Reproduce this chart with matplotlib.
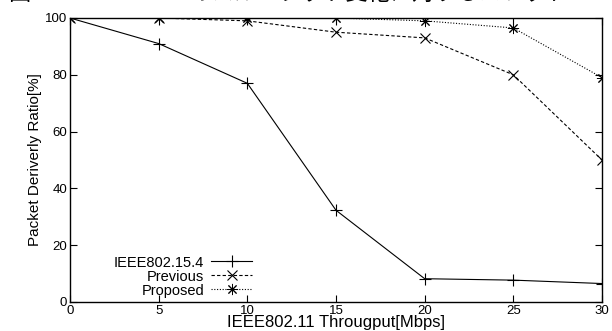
import matplotlib
matplotlib.use("Agg")
import matplotlib.pyplot as plt

plt.rcParams['font.family'] = ['Liberation Sans', 'Noto Sans CJK JP', 'DejaVu Sans']

throughput = [0, 5, 10, 15, 20, 25, 30]
ieee802154 = [100, 91, 77, 32.3, 8.2, 7.7, 6.5]
previous = [100, 100, 99, 95, 93, 80, 50]
proposed = [100, 100, 100, 100, 99, 96.5, 79]

xticks = [0, 5, 10, 15, 20, 25, 30]
yticks = [0, 20, 40, 60, 80, 100]

fig = plt.figure(figsize=(6.12, 3.31), dpi=100)
ax = fig.add_axes([70/612, 1 - 302/331, (602-70)/612, (302-18)/331])

ax.plot(throughput, ieee802154, color='black', lw=0.8, marker='+', ms=8, mew=0.8,
        label='IEEE802.15.4')
ax.plot(throughput, previous, color='black', lw=0.8, ls=(0, (3, 2)), marker='x', ms=7, mew=0.8,
        label='Previous')
ax.plot(throughput, proposed, color='black', lw=0.8, ls=(0, (1, 1.5)), marker=(8, 2, 0), ms=8, mew=0.7,
        label='Proposed')

ax.set_xlim(0, 30)
ax.set_ylim(0, 100)
ax.set_xticks(xticks)
ax.set_yticks(yticks)
ax.tick_params(direction='in', length=5, width=0.8, top=True, right=True, labelsize=9.5, pad=2)
for s in ax.spines.values():
    s.set_linewidth(1.0)

ax.set_xlabel('IEEE802.11 Througput[Mbps]', fontsize=12, labelpad=-1)
ax.set_ylabel('Packet Deriverly Ratio[%]', fontsize=11, labelpad=2)

leg = ax.legend(loc='lower right', bbox_to_anchor=((258-70)/532, -0.005), markerfirst=False, frameon=False,
                fontsize=10.5, handlelength=2.8, labelspacing=0.0, borderaxespad=0.2, handletextpad=0.5,
                borderpad=0.2)
for t in leg.get_texts():
    t.set_ha('right')
leg._legend_box.align = 'right'

fig.text(0.015, 1.021, '図 7　IEEE802.11 のスループット変化に対するパケット', fontsize=16,
         va='center', ha='left', family=['Noto Sans CJK JP', 'DejaVu Sans'])

fig.savefig('out.png', dpi=100)
